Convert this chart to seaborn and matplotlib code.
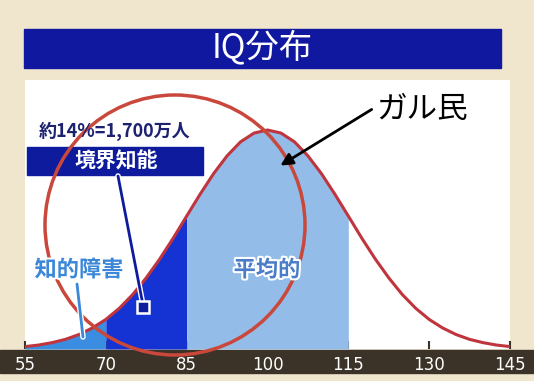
import matplotlib
matplotlib.use("Agg")
import numpy as np
import pandas as pd
import matplotlib.pyplot as plt
import matplotlib.patches as mpatches
import matplotlib.patheffects as pe
import seaborn as sns

# --- data (curve height, % of peak) ---
iq = [55, 57.5, 60, 62.5, 65, 67.5, 70, 72.5, 75, 77.5, 80, 82.5, 85, 87.5, 90,
      92.5, 95, 97.5, 100, 102.5, 105, 107.5, 110, 112.5, 115, 117.5, 120, 122.5,
      125, 127.5, 130, 132.5, 135, 137.5, 140, 142.5, 145]
height = [1.1, 1.8, 2.9, 4.4, 6.6, 9.6, 13.5, 18.6, 24.9, 32.5, 41.1, 50.6, 60.7,
          70.7, 80.1, 88.2, 94.6, 98.6, 100, 98.6, 94.6, 88.2, 80.1, 70.7, 60.7,
          50.6, 41.1, 32.5, 24.9, 18.6, 13.5, 9.6, 6.6, 4.4, 2.9, 1.8, 1.1]
tick_values = [55, 70, 85, 100, 115, 130, 145]
bands = [(55, 70, "#3a8de0"), (70, 85, "#1532d2"), (85, 115, "#94bce8")]

df = pd.DataFrame({"iq": iq, "height": height})

sns.set_theme(style="white")
plt.rcParams["font.family"] = ["Noto Sans CJK JP", "DejaVu Sans"]

W, H = 534, 381
fig = plt.figure(figsize=(W / 100, H / 100), dpi=100)
fig.patch.set_facecolor("#f0e6ce")

# dark axis bar
fig.add_artist(mpatches.Rectangle((0, (H - 373) / H), 1, 23 / H,
                                  transform=fig.transFigure, color="#3b3228", zorder=-1))

ax = fig.add_axes([25 / W, (H - 349) / H, 485 / W, 269 / H])
ax.set_facecolor("white")
x = np.array(iq)
y = np.array(height)
for lo, hi, col in bands:
    m = (x >= lo) & (x <= hi)
    ax.fill_between(x[m], 0, y[m], color=col, lw=0)
sns.lineplot(data=df, x="iq", y="height", ax=ax, color="#c0353d", lw=2.2)
ax.set_xlim(55, 145)
ax.set_ylim(0, 100 * 269 / 219)
ax.set_xticks(tick_values)
ax.set_xticklabels([str(t) for t in tick_values], color="white", fontsize=12,
                   family="DejaVu Sans")
ax.set_yticks([])
ax.set_xlabel("")
ax.set_ylabel("")
ax.tick_params(axis="x", direction="in", length=6, width=1.5, color="#3b3228", pad=5,
               bottom=True)
for s in ax.spines.values():
    s.set_visible(False)

# overlay in pixel coords
ov = fig.add_axes([0, 0, 1, 1], zorder=5)
ov.set_xlim(0, W)
ov.set_ylim(H, 0)
ov.axis("off")
ov.patch.set_alpha(0)

ov.add_patch(mpatches.Rectangle((24, 29), 477, 39, color="#1118a0"))
ov.text(262, 48, "IQ分布", color="white", fontsize=24, ha="center", va="center")

ov.text(115, 131, "約14%=1,700万人", color="#1c2270", fontsize=13, fontweight="bold",
        ha="center", va="center")
ov.add_patch(mpatches.Rectangle((27, 147), 176, 28, color="#0d1b9c"))
ov.text(116, 161, "境界知能", color="white", fontsize=15, fontweight="bold",
        ha="center", va="center")
white_edge = [pe.withStroke(linewidth=4, foreground="white")]
ov.plot([118, 143], [176, 305], color="#0d1b9c", lw=2, path_effects=white_edge)
ov.plot([143], [307], marker="s", ms=8, mfc="#0d1b9c", mec="white", mew=1.8)

ov.text(79, 270, "知的障害", color="#3b87d8", fontsize=16, fontweight="bold",
        ha="center", va="center", path_effects=[pe.withStroke(linewidth=3, foreground="white")])
ov.plot([77, 83], [284, 337], color="#3b87d8", lw=2, path_effects=white_edge)

ov.text(267, 270, "平均的", color="#4a7cc8", fontsize=16, fontweight="bold",
        ha="center", va="center", path_effects=[pe.withStroke(linewidth=3, foreground="white")])

ov.text(422, 110, "ガル民", color="black", fontsize=22, ha="center", va="center")
ov.annotate("", xy=(278, 167), xytext=(374, 108),
            arrowprops=dict(arrowstyle="-|>", color="black", lw=2, mutation_scale=18))

ov.add_patch(mpatches.Circle((175, 225), 130, fill=False, ec="#c9483b", lw=2.5))

fig.savefig("out.png", dpi=100, facecolor=fig.get_facecolor())
print("Plot saved: out.png")
